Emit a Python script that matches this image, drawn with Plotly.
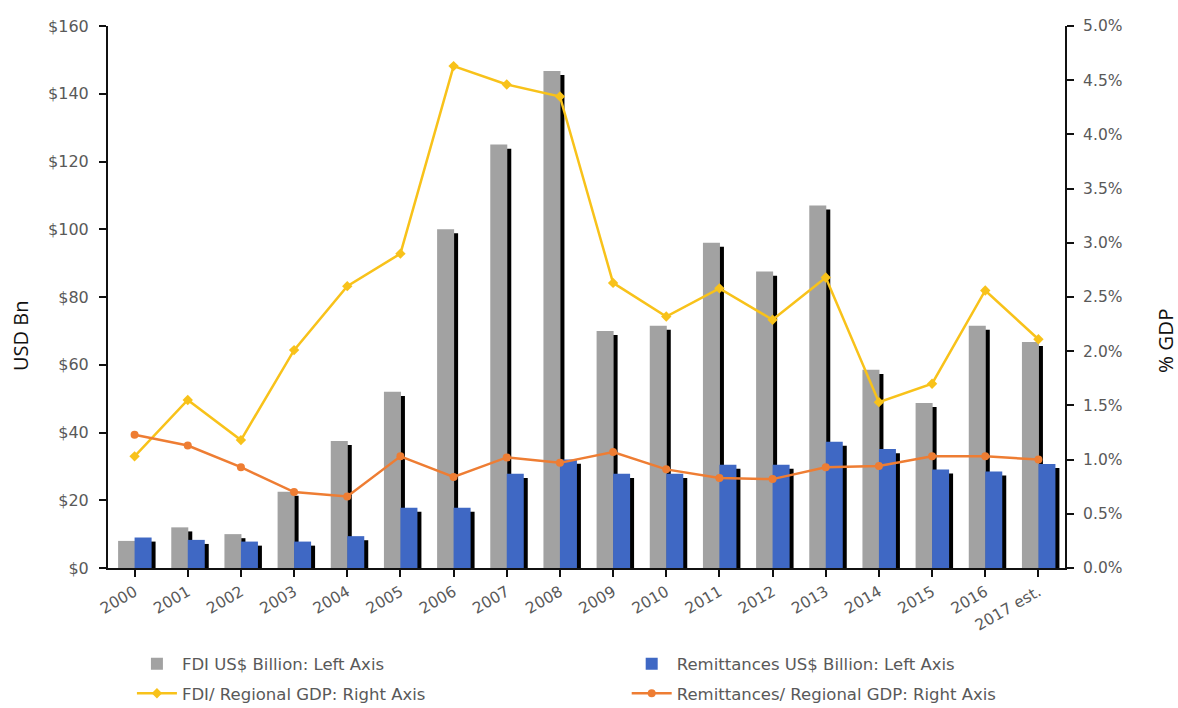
import plotly.graph_objects as go

years = ["2000", "2001", "2002", "2003", "2004", "2005", "2006", "2007", "2008",
         "2009", "2010", "2011", "2012", "2013", "2014", "2015", "2016", "2017 est."]

fdi_usd_bn = [8, 12, 10, 22.5, 37.5, 52, 100, 125, 146.7,
              70, 71.5, 96, 87.5, 107, 58.5, 48.7, 71.5, 66.7]
remit_usd_bn = [9, 8.3, 7.8, 7.8, 9.4, 17.8, 17.8, 27.8, 32,
                27.8, 27.8, 30.5, 30.5, 37.3, 35.1, 29.1, 28.5, 30.7]
fdi_pct_gdp = [1.03, 1.55, 1.18, 2.01, 2.60, 2.90, 4.63, 4.46, 4.35,
               2.63, 2.32, 2.58, 2.29, 2.68, 1.53, 1.70, 2.56, 2.11]
remit_pct_gdp = [1.23, 1.13, 0.93, 0.70, 0.66, 1.03, 0.84, 1.02, 0.97,
                 1.07, 0.91, 0.83, 0.82, 0.93, 0.94, 1.03, 1.03, 1.00]

x_idx = list(range(len(years)))
GREY = "#a2a2a2"
BLUE = "#3f68c4"
YELLOW = "#f8c21a"
ORANGE = "#ee7d33"
TEXT = "#595959"
TICK_FONT = "DejaVu Sans"
TITLE_FONT = "Open Sans"

bar_w = 0.32
shadow_dx = 0.075
shadow_drop = 1.2  # shadow top sits a little below the bar top


def shadow_of(vals):
    return [max(v - shadow_drop, 0) for v in vals]


fig = go.Figure()

# FDI bars with a dark drop shadow on the right
fig.add_trace(go.Bar(x=x_idx, y=shadow_of(fdi_usd_bn), offset=-bar_w + 0.01 + shadow_dx,
                     width=bar_w, marker=dict(color="#000000", line_width=0),
                     showlegend=False, hoverinfo="skip"))
fig.add_trace(go.Bar(x=x_idx, y=fdi_usd_bn, offset=-bar_w + 0.01, width=bar_w,
                     marker=dict(color=GREY, line_width=0),
                     name="FDI US$ Billion: Left Axis",
                     legend="legend", legendgroup="a", legendrank=1))

# Remittance bars with the same shadow
fig.add_trace(go.Bar(x=x_idx, y=shadow_of(remit_usd_bn), offset=0.0 + shadow_dx,
                     width=bar_w, marker=dict(color="#000000", line_width=0),
                     showlegend=False, hoverinfo="skip"))
fig.add_trace(go.Bar(x=x_idx, y=remit_usd_bn, offset=0.0, width=bar_w,
                     marker=dict(color=BLUE, line_width=0),
                     name="Remittances US$ Billion: Left Axis",
                     legend="legend2", legendgroup="c", legendrank=1))

# Ratios to regional GDP on the right axis
fig.add_trace(go.Scatter(x=x_idx, y=[v / 100 for v in fdi_pct_gdp], yaxis="y2",
                         mode="lines+markers", line=dict(color=YELLOW, width=2.5),
                         marker=dict(symbol="diamond", size=8, color=YELLOW),
                         name="FDI/ Regional GDP: Right Axis",
                         legend="legend", legendgroup="b", legendrank=2))
fig.add_trace(go.Scatter(x=x_idx, y=[v / 100 for v in remit_pct_gdp], yaxis="y2",
                         mode="lines+markers", line=dict(color=ORANGE, width=2.5),
                         marker=dict(symbol="circle", size=8, color=ORANGE),
                         name="Remittances/ Regional GDP: Right Axis",
                         legend="legend2", legendgroup="d", legendrank=2))

axis_line = dict(showgrid=False, zeroline=False,
                 showline=True, linecolor="#111111", linewidth=2,
                 ticks="outside", ticklen=7, tickwidth=2, tickcolor="#111111")
# companion axes that add the inner half of each cross-shaped tick
inner_ticks = dict(showgrid=False, zeroline=False, showline=False,
                   showticklabels=False, ticks="inside", ticklen=6,
                   tickwidth=2, tickcolor="#111111")
legend_common = dict(orientation="v", yanchor="top", xanchor="left",
                     font=dict(family=TICK_FONT, size=16.5, color=TEXT),
                     tracegroupgap=5, itemwidth=40, bgcolor="rgba(0,0,0,0)")

x_range = [-0.5, len(years) - 0.5]
boundaries = [i + 0.5 for i in x_idx[:-1]]

fig.update_layout(
    width=1178, height=708,
    margin=dict(l=108, r=113, t=26, b=140, autoexpand=False),
    paper_bgcolor="white", plot_bgcolor="white",
    barmode="overlay",
    font=dict(family=TICK_FONT, size=15.5, color=TEXT),
    xaxis=dict(
        range=x_range,
        tickmode="array", tickvals=x_idx, ticktext=years,
        tickangle=-30, tickson="boundaries",
        tickfont=dict(family=TICK_FONT, size=15.5, color=TEXT),
        **axis_line,
    ),
    yaxis=dict(
        range=[0, 160], dtick=20, tickprefix="$", ticklabelstandoff=7,
        tickfont=dict(family=TICK_FONT, size=16, color=TEXT),
        **axis_line,
    ),
    yaxis2=dict(
        range=[0, 0.05], dtick=0.005, tickformat=".1%",
        overlaying="y", side="right", ticklabelstandoff=6,
        tickfont=dict(family=TICK_FONT, size=15.5, color=TEXT),
        **axis_line,
    ),
    xaxis2=dict(overlaying="x", anchor="y", side="bottom", range=x_range,
                tickmode="array", tickvals=boundaries, **inner_ticks),
    yaxis3=dict(overlaying="y", anchor="x", side="left", range=[0, 160], dtick=20,
                **inner_ticks),
    yaxis4=dict(overlaying="y", anchor="x", side="right", range=[0, 0.05], dtick=0.005,
                **inner_ticks),
    legend=dict(x=0.025, y=-0.145, **legend_common),
    legend2=dict(x=0.542, y=-0.145, **legend_common),
    annotations=[
        dict(text="USD Bn", textangle=-90, xref="paper", yref="paper",
             x=-0.092, y=0.428, xanchor="center", yanchor="middle", showarrow=False,
             font=dict(family=TITLE_FONT, size=20, color="#111111")),
        dict(text="% GDP", textangle=-90, xref="paper", yref="paper",
             x=1.1045, y=0.419, xanchor="center", yanchor="middle", showarrow=False,
             font=dict(family=TITLE_FONT, size=20.5, color="#111111")),
    ],
)

fig.write_html("out.html")
